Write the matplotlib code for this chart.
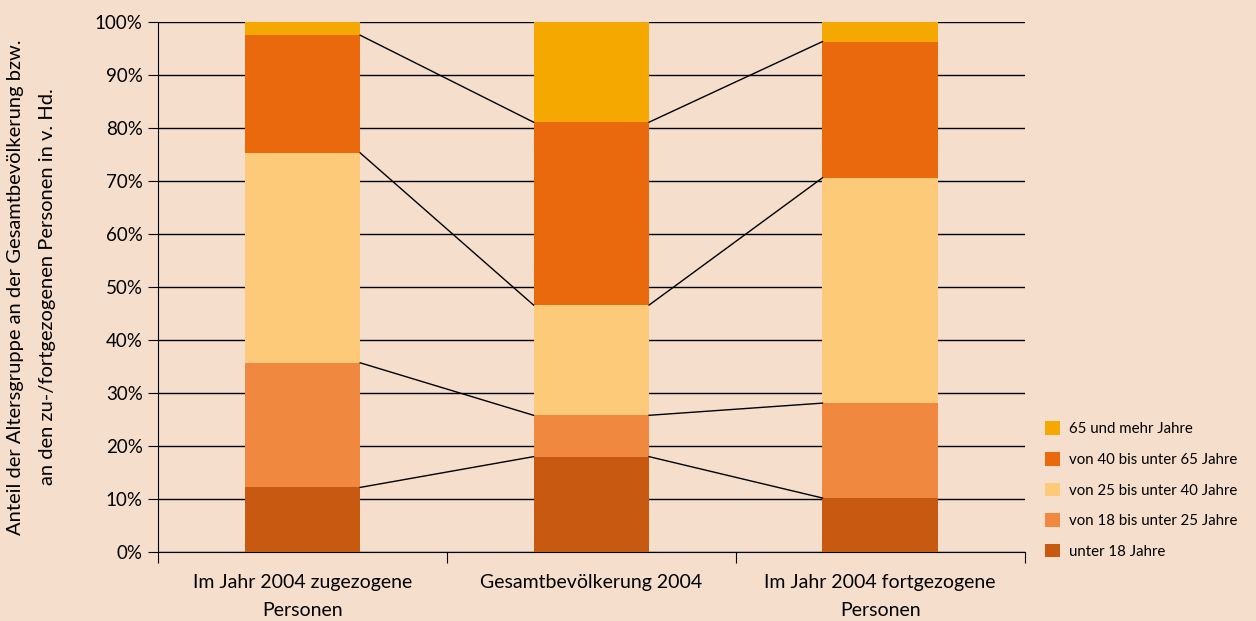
import matplotlib.pyplot as plt
import numpy as np

plt.rcParams["font.family"] = ["Lato", "DejaVu Sans"]

groups = ["Im Jahr 2004 zugezogene\nPersonen", "Gesamtbevölkerung 2004",
          "Im Jahr 2004 fortgezogene\nPersonen"]
age_labels = ["unter 18 Jahre", "von 18 bis unter 25 Jahre", "von 25 bis unter 40 Jahre",
              "von 40 bis unter 65 Jahre", "65 und mehr Jahre"]
unter18 = [12.2, 18.0, 10.2]
von18_25 = [23.5, 7.8, 17.9]
von25_40 = [39.6, 20.8, 42.5]
von40_65 = [22.2, 34.5, 25.7]
ab65 = [2.5, 18.9, 3.7]
colors = ["#C75A10", "#F08840", "#FCCA78", "#EA690D", "#F5A800"]

bg = "#F5DECB"
fig = plt.figure(figsize=(12.56, 6.21), dpi=100, facecolor=bg)
ax = fig.add_axes([0.1258, 0.111, 0.69, 0.8536], facecolor=bg)

series = [unter18, von18_25, von25_40, von40_65, ab65]
x = np.arange(len(groups))
width = 0.4
bottom = np.zeros(len(groups))
bounds = []
for vals, c, lab in zip(series, colors, age_labels):
    ax.bar(x, vals, width, bottom=bottom, color=c, label=lab, zorder=3)
    bottom = bottom + np.array(vals)
    bounds.append(bottom.copy())

# connector lines between neighbouring bars
for b in bounds[:-1]:
    for i in range(len(groups) - 1):
        ax.plot([x[i] + width / 2, x[i + 1] - width / 2], [b[i], b[i + 1]],
                color="black", lw=1, zorder=4)

ax.set_xlim(-0.5, 2.5)
ax.set_ylim(0, 100)
ax.set_yticks(np.arange(0, 101, 10))
ax.set_yticklabels([f"{v}%" for v in range(0, 101, 10)], fontsize=13.5)
ax.yaxis.grid(True, color="black", lw=1, zorder=1)
ax.set_axisbelow(True)
ax.set_xticks([-0.5, 0.5, 1.5, 2.5])
ax.set_xticklabels([])
ax.set_xticks(x, minor=True)
ax.set_xticklabels(groups, minor=True, fontsize=14, linespacing=1.75)
ax.tick_params(axis="x", which="minor", length=0, pad=16)
ax.tick_params(axis="x", which="major", length=8, direction="out")
ax.tick_params(axis="y", length=7, direction="out", pad=4)
for s in ["top", "right"]:
    ax.spines[s].set_visible(False)
for s in ["left", "bottom"]:
    ax.spines[s].set_color("black")

ax.set_ylabel("Anteil der Altersgruppe an der Gesamtbevölkerung bzw.\n"
              "an den zu-/fortgezogenen Personen in v. Hd.", fontsize=14.5,
              labelpad=28, linespacing=2.05)

handles, labels = ax.get_legend_handles_labels()
fig.legend(handles[::-1], labels[::-1], loc="upper left",
           bbox_to_anchor=(0.821, 0.343), frameon=False, fontsize=10.8,
           handlelength=1.0, handleheight=1.0, labelspacing=1.05, handletextpad=0.6)

fig.savefig("out.png", dpi=100, facecolor=bg)
